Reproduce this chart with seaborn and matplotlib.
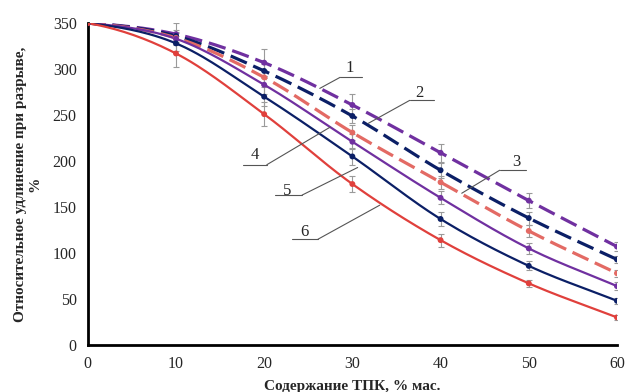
import numpy as np
import pandas as pd
import matplotlib
matplotlib.use("Agg")
import matplotlib.pyplot as plt
import seaborn as sns

# ---- data ----
x_vals = [0, 10, 20, 30, 40, 50, 60]
s1 = [350, 338, 307, 261, 209, 157, 107]   # purple dashed
s2 = [350, 336, 298, 249, 190, 138, 93]    # navy dashed
s3 = [350, 334, 291, 231, 177, 124, 78]    # red dashed
s4 = [350, 333, 283, 221, 160, 105, 64]    # purple solid
s5 = [350, 328, 270, 205, 137, 86, 48]     # navy solid
s6 = [350, 317, 251, 175, 114, 67, 30]     # red solid
e1 = [0, 12, 15, 12, 10, 8, 5]
e2 = [0, 6, 8, 8, 8, 7, 4]
e3 = [0, 6, 8, 8, 7, 7, 4]
e4 = [0, 6, 10, 8, 7, 6, 4]
e5 = [0, 8, 10, 9, 8, 5, 3]
e6 = [0, 15, 13, 9, 7, 4, 3]
series_names = ["1", "2", "3", "4", "5", "6"]
x_label = "Содержание ТПК, % мас."
y_label = "Относительное удлинение при разрыве,\n%"
y_ticks = [0, 50, 100, 150, 200, 250, 300, 350]
x_ticks = [0, 10, 20, 30, 40, 50, 60]

purple = "#7030A0"
navy = "#0B1F66"
red = "#E0403C"
red_d = "#E36A64"

series = [s1, s2, s3, s4, s5, s6]
errs = [e1, e2, e3, e4, e5, e6]
colors = [purple, navy, red_d, purple, navy, red]
dashed = [True, True, True, False, False, False]

sns.set_theme(style="white")
plt.rcParams["font.family"] = ["Liberation Serif", "DejaVu Serif"]

fig, ax = plt.subplots(figsize=(6.27, 3.92), dpi=100)
fig.subplots_adjust(left=0.140, right=0.984, top=0.941, bottom=0.120)


def catmull(xs, ys, n=30):
    xs = np.asarray(xs, float); ys = np.asarray(ys, float)
    px = np.concatenate([[2 * xs[0] - xs[1]], xs, [2 * xs[-1] - xs[-2]]])
    py = np.concatenate([[ys[0]], ys, [2 * ys[-1] - ys[-2]]])
    outx, outy = [], []
    t = np.linspace(0, 1, n)
    for i in range(1, len(px) - 2):
        p0, p1, p2, p3 = [np.array([px[j], py[j]]) for j in (i - 1, i, i + 1, i + 2)]
        pts = 0.5 * ((2 * p1)[None, :] + (-p0 + p2)[None, :] * t[:, None]
                     + (2 * p0 - 5 * p1 + 4 * p2 - p3)[None, :] * (t ** 2)[:, None]
                     + (-p0 + 3 * p1 - 3 * p2 + p3)[None, :] * (t ** 3)[:, None])
        outx.extend(pts[:, 0]); outy.extend(pts[:, 1])
    return np.array(outx), np.array(outy)


for name, ys, er, c, d in zip(series_names, series, errs, colors, dashed):
    ax.errorbar(x_vals, ys, yerr=er, fmt="none", ecolor="#9a9a9a", elinewidth=0.8,
                capsize=2.5, capthick=0.8, zorder=2)
    sx, sy = catmull(x_vals, ys)
    df = pd.DataFrame({"x": sx, "y": sy})
    sns.lineplot(data=df, x="x", y="y", ax=ax, color=c, sort=False,
                 linewidth=2.3 if d else 1.6, zorder=3,
                 dashes=False, estimator=None)
    if d:
        ax.lines[-1].set_linestyle((0, (5.5, 2.2)))
    dfp = pd.DataFrame({"x": x_vals, "y": ys})
    sns.scatterplot(data=dfp, x="x", y="y", ax=ax, color=c, s=18, edgecolor="none", zorder=4)

# leader-line annotations (data coords)
ann = [
    ("1", (29.7, 301), (28.6, 291), (31.1, 291), (26.3, 279)),
    ("2", (37.6, 274), (36.5, 266), (39.2, 266), (31.8, 241)),
    ("3", (48.6, 199), (46.7, 190), (49.7, 190), (42.4, 165)),
    ("4", (18.9, 207), (17.6, 196), (20.3, 196), (27.5, 237)),
    ("5", (22.6, 167), (21.2, 163), (24.3, 163), (30.6, 193)),
    ("6", (24.6, 123), (23.1, 115), (26.1, 115), (33.1, 152)),
]
for txt, tp, u0, u1, pe in ann:
    ax.plot([u0[0], u1[0]], [u0[1], u1[1]], color="#555555", lw=0.8, zorder=5)
    start = u1 if txt in ("4", "5", "6") else u0
    ax.plot([start[0], pe[0]], [start[1], pe[1]], color="#555555", lw=0.8, zorder=5)
    ax.text(tp[0], tp[1], txt, fontsize=12, ha="center", va="center", zorder=6)

ax.set_xlim(0, 60)
ax.set_ylim(0, 350)
ax.set_xticks(x_ticks)
ax.set_yticks(y_ticks)
ax.tick_params(axis="both", labelsize=11.5, length=0, pad=8)
ax.set_xlabel(x_label, fontsize=11, fontweight="bold", labelpad=6)
ax.set_ylabel(y_label, fontsize=11, fontweight="bold", labelpad=8)
for s in ["top", "right"]:
    ax.spines[s].set_visible(False)
for s in ["left", "bottom"]:
    ax.spines[s].set_color("black")
    ax.spines[s].set_linewidth(2)
ax.grid(False)

fig.savefig("out.png", dpi=100)
